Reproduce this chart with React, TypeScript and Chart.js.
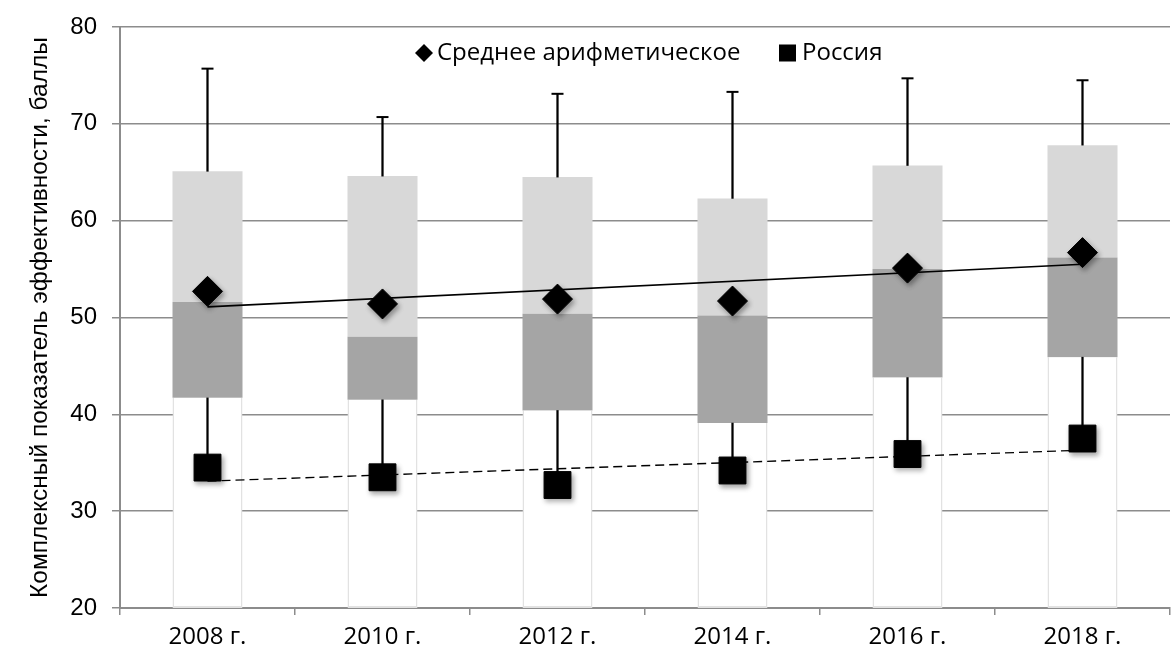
import React, { useEffect, useRef } from 'react';
import { Chart, registerables } from 'chart.js';

Chart.register(...registerables);

const categories = ['2008 г.', '2010 г.', '2012 г.', '2014 г.', '2016 г.', '2018 г.'];
const minValues = [34.5, 33.5, 32.7, 34.2, 35.9, 37.5];
const q1Values = [41.7, 41.5, 40.4, 39.1, 43.8, 45.9];
const medianValues = [51.6, 48.0, 50.4, 50.2, 55.0, 56.2];
const q3Values = [65.1, 64.6, 64.5, 62.3, 65.7, 67.8];
const maxValues = [75.7, 70.7, 73.1, 73.3, 74.7, 74.5];
const meanValues = [52.7, 51.4, 51.9, 51.7, 55.1, 56.7];
const russiaValues = [34.5, 33.5, 32.7, 34.2, 35.9, 37.5];
const meanTrend = [51.1, null, null, null, null, 55.5];
const russiaTrend = [33.1, null, null, null, null, 36.3];
const axisMin = 20;
const axisMax = 80;
const axisStep = 10;
const legendLabels = ['Среднее арифметическое', 'Россия'];
const yTitle = 'Комплексный показатель эффективности, баллы';

const GRID = '#8c8c8c';

const legendPlugin = {
  id: 'customLegend',
  afterDraw(chart: any) {
    const ctx = chart.ctx as CanvasRenderingContext2D;
    const y = 53;
    ctx.save();
    ctx.fillStyle = '#000';
    ctx.font = '24px "Open Sans"';
    ctx.textBaseline = 'middle';
    ctx.textAlign = 'left';
    const dx = 424;
    const r = 9;
    ctx.beginPath();
    ctx.moveTo(dx - r, y);
    ctx.lineTo(dx, y - r);
    ctx.lineTo(dx + r, y);
    ctx.lineTo(dx, y + r);
    ctx.closePath();
    ctx.fill();
    ctx.fillText(legendLabels[0], 437, y);
    ctx.fillRect(779, y - 8.5, 17, 17);
    ctx.fillText(legendLabels[1], 802, y);
    ctx.restore();
  },
};

const shadowPlugin = {
  id: 'markerShadow',
  beforeDatasetDraw(chart: any, args: any) {
    const ds = chart.data.datasets[args.index];
    if (ds && ds.shadow) {
      const ctx = chart.ctx;
      ctx.save();
      ctx.shadowColor = 'rgba(0,0,0,0.35)';
      ctx.shadowBlur = 5;
      ctx.shadowOffsetX = 2;
      ctx.shadowOffsetY = 3;
    }
  },
  afterDatasetDraw(chart: any, args: any) {
    const ds = chart.data.datasets[args.index];
    if (ds && ds.shadow) {
      chart.ctx.restore();
    }
  },
};

export default function App() {
  const canvasRef = useRef<HTMLCanvasElement | null>(null);

  useEffect(() => {
    if (!canvasRef.current) return;
    const boxCommon = {
      type: 'bar' as const,
      grouped: false,
      barPercentage: 0.4,
      categoryPercentage: 1,
      borderSkipped: false,
      order: 5,
    };
    const chart = new Chart(canvasRef.current, {
      type: 'bar',
      data: {
        labels: categories,
        datasets: [
          {
            ...boxCommon,
            data: categories.map((_, i) => [axisMin, q1Values[i]]),
            backgroundColor: '#ffffff',
            borderColor: '#e2e2e2',
            borderWidth: { left: 1.5, right: 1.5, bottom: 2, top: 0 },
          } as any,
          {
            ...boxCommon,
            data: categories.map((_, i) => [q1Values[i], medianValues[i]]),
            backgroundColor: '#a5a5a5',
            borderWidth: 0,
          } as any,
          {
            ...boxCommon,
            data: categories.map((_, i) => [medianValues[i], q3Values[i]]),
            backgroundColor: '#d8d8d8',
            borderWidth: 0,
          } as any,
          {
            type: 'bar',
            grouped: false,
            barThickness: 1.6,
            data: categories.map((_, i) => [q3Values[i], maxValues[i]]),
            backgroundColor: '#000',
            borderWidth: 0,
            order: 4,
          } as any,
          {
            type: 'bar',
            grouped: false,
            barThickness: 1.6,
            data: categories.map((_, i) => [minValues[i], q1Values[i]]),
            backgroundColor: '#000',
            borderWidth: 0,
            order: 4,
          } as any,
          {
            type: 'line',
            data: maxValues,
            showLine: false,
            pointStyle: 'line',
            pointRadius: 6,
            pointBorderWidth: 2,
            borderColor: '#000',
            backgroundColor: '#000',
            order: 4,
          } as any,
          {
            type: 'line',
            data: meanTrend,
            spanGaps: true,
            borderColor: '#000',
            borderWidth: 1.6,
            pointRadius: 0,
            order: 2,
          } as any,
          {
            type: 'line',
            data: russiaTrend,
            spanGaps: true,
            borderColor: '#000',
            borderWidth: 1.4,
            borderDash: [9, 5],
            pointRadius: 0,
            order: 2,
          } as any,
          {
            type: 'line',
            data: meanValues,
            showLine: false,
            pointStyle: 'rectRot',
            pointRadius: 15,
            pointBorderWidth: 1,
            borderColor: '#000',
            backgroundColor: '#000',
            shadow: true,
            order: 0,
          } as any,
          {
            type: 'line',
            data: russiaValues,
            showLine: false,
            pointStyle: 'rect',
            pointRadius: 19,
            pointBorderWidth: 1,
            borderColor: '#000',
            backgroundColor: '#000',
            shadow: true,
            order: 0,
          } as any,
        ],
      },
      options: {
        animation: false,
        responsive: false,
        events: [],
        layout: { padding: { top: 25, right: 5, bottom: 0, left: 0 } },
        plugins: {
          legend: { display: false },
          tooltip: { enabled: false },
          title: { display: false },
        },
        scales: {
          x: {
            offset: true,
            afterFit: (scale: any) => {
              scale.height = 46;
            },
            grid: {
              display: true,
              drawOnChartArea: false,
              drawTicks: true,
              tickLength: 7,
              offset: true,
              color: GRID,
              lineWidth: 1.5,
            },
            border: { display: true, color: GRID, width: 2 },
            ticks: {
              color: '#000',
              font: { family: '"Open Sans"', size: 24 },
              padding: 8,
              maxRotation: 0,
            },
          },
          y: {
            min: axisMin,
            max: axisMax,
            afterFit: (scale: any) => {
              scale.width = 120;
            },
            grid: {
              color: GRID,
              lineWidth: 1.5,
              tickLength: 8,
            },
            border: { display: true, color: GRID, width: 2 },
            ticks: {
              stepSize: axisStep,
              color: '#000',
              font: { family: '"Liberation Sans"', size: 24, lineHeight: 1 },
              padding: 15,
            },
            title: {
              display: true,
              text: yTitle,
              color: '#000',
              font: { family: '"Liberation Sans"', size: 24.5, lineHeight: 1.2 },
              padding: { top: 26, bottom: 0 },
            },
          },
        },
      },
      plugins: [legendPlugin, shadowPlugin],
    } as any);
    return () => {
      chart.destroy();
    };
  }, []);

  return (
    <div
      style={{
        position: 'fixed',
        left: 0,
        top: 0,
        width: 1172,
        height: 654,
        overflow: 'hidden',
        background: '#fff',
      }}
    >
      <canvas ref={canvasRef} width={1190} height={654} style={{ width: 1190, height: 654, display: 'block' }} />
    </div>
  );
}
